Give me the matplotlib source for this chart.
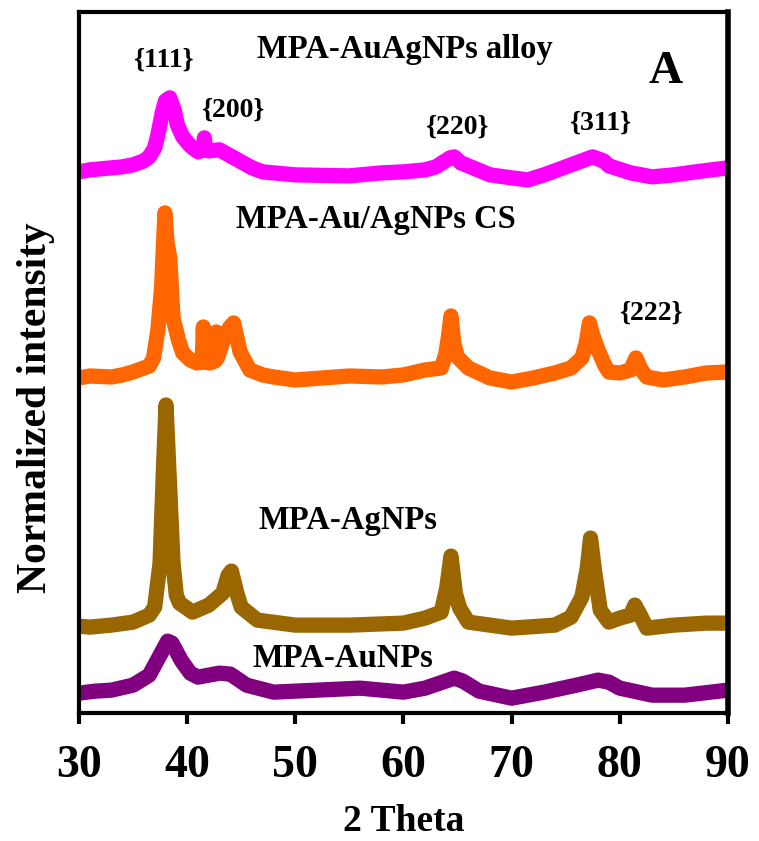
import matplotlib
matplotlib.use("Agg")
import matplotlib.pyplot as plt

plt.rcParams['font.family'] = ['Liberation Serif', 'DejaVu Serif']
plt.rcParams['font.weight'] = 'bold'

# 2 theta (deg) and stacked normalized intensity (arb. units)
theta_alloy = [30, 31, 33, 34, 35, 36, 36.5, 37.0, 37.3, 37.7, 38.0, 38.4, 38.8, 39.1, 39.6, 40.3, 41,
               41.5, 41.6, 41.7, 42, 43, 44, 45, 46, 47, 50, 55, 58, 60, 62, 63, 64.3, 64.7, 65.3, 66,
               68, 70, 71.5, 73, 75, 76.5, 77.5, 78.5, 79, 81, 83, 85, 87, 88.5, 90]
int_alloy = [541, 543, 545, 546, 548, 552, 556, 565, 578, 600, 612, 615, 603, 588, 576, 567, 561,
             563, 575, 563, 562, 563, 557, 551, 545, 541, 538, 537, 540, 541, 543, 546, 555, 556, 550, 547,
             538, 535, 533, 538, 546, 552, 556, 552, 547, 540, 536, 538, 541, 543, 545]

theta_cs = [30, 31, 33, 34, 35, 36.5, 36.9, 37.3, 37.64, 37.95, 38.15, 38.4, 38.7, 39.2, 39.6, 40.3,
            40.9, 41.4, 41.5, 41.6, 42.1, 42.6, 42.7, 42.8, 43.3, 43.9, 44.3, 44.9, 45.8, 47, 48, 50,
            55, 58, 60, 62, 63.5, 63.9, 64.15, 64.4, 64.65, 65.0, 66, 68, 70, 72, 74, 75.5, 76.5,
            76.9, 77.2, 77.5, 78.0, 78.6, 79, 80, 81.0, 81.5, 82.0, 82.5, 84, 86, 88, 90]
int_cs = [335, 337, 336, 338, 341, 347, 355, 383, 425, 500, 470, 455, 395, 373, 360, 353,
          350, 351, 386, 351, 350, 352, 381, 355, 371, 385, 390, 361, 343, 338, 336, 333,
          337, 336, 338, 343, 345, 358, 375, 397, 370, 356, 345, 335, 331, 335, 340, 345, 355,
          370, 390, 378, 363, 348, 341, 340, 343, 355, 343, 336, 333, 336, 340, 341]

theta_ag = [30, 31, 33, 35, 36.5, 37.0, 37.5, 37.8, 38.05, 38.35, 38.7, 39.0, 39.3, 40.5, 42, 43.3,
            43.8, 44.1, 44.6, 45, 46.5, 50, 55, 60, 62, 63.5, 64.0, 64.4, 64.8, 65.2, 66, 70, 74,
            75.5, 76.5, 77.0, 77.3, 77.7, 78.2, 79, 80, 81.0, 81.4, 81.9, 82.5, 85, 88, 90]
int_ag = [87, 86, 88, 91, 98, 106, 150, 240, 308, 235, 150, 118, 110, 101, 108, 120,
          138, 142, 120, 106, 93, 88, 88, 90, 95, 101, 125, 157, 120, 105, 91, 85, 88,
          96, 116, 145, 175, 140, 103, 91, 95, 98, 108, 98, 85, 88, 90, 90]

theta_au = [30, 31.5, 33, 35, 36.5, 37.5, 38.2, 38.6, 39.5, 40.3, 41, 42, 43, 44, 45.5, 48, 52, 56,
            60, 62, 64.7, 65.5, 67, 70, 73, 76, 78, 79, 80, 83, 86, 90]
int_au = [20, 22, 23, 28, 38, 58, 72, 70, 52, 40, 36, 38, 40, 39, 28, 21, 23, 25,
          21, 25, 35, 32, 22, 15, 21, 28, 33, 31, 25, 18, 18, 23]

fig = plt.figure(figsize=(7.59, 8.41), dpi=100)
ax = fig.add_axes([0.104, 0.152, 0.855, 0.834])

lw = 11
style = dict(lw=lw, solid_joinstyle='round', solid_capstyle='round')
ax.plot(theta_alloy, int_alloy, color='#FF00FF', **style)
ax.plot(theta_cs, int_cs, color='#FF6600', **style)
ax.plot(theta_ag, int_ag, color='#996600', **style)
ax.plot(theta_au, int_au, color='#800080', **style)

ax.set_xlim(30, 90)
ax.set_ylim(0, 701)
ax.set_xticks([30, 40, 50, 60, 70, 80, 90])
ax.set_yticks([])
ax.tick_params(axis='x', direction='out', length=8, width=3, labelsize=33, pad=15)
for s in ax.spines.values():
    s.set_linewidth(3)
ax.spines['right'].set_linewidth(4)

ax.set_xlabel('2 Theta', fontsize=27, fontweight='bold', labelpad=12)
ax.set_ylabel('Normalized intensity', fontsize=30, fontweight='bold')
ax.yaxis.set_label_coords(-0.037, 0.435)

ax.text(60.1, 663, 'MPA-AuAgNPs alloy', fontsize=23.5, ha='center', va='center')
ax.text(84.25, 641, 'A', fontsize=34, ha='center', va='center')
ax.text(37.8, 653, '{111}', fontsize=20, ha='center', va='center')
ax.text(44.2, 603, '{200}', fontsize=20, ha='center', va='center')
ax.text(64.9, 586, '{220}', fontsize=20, ha='center', va='center')
ax.text(78.2, 590, '{311}', fontsize=20, ha='center', va='center')
ax.text(82.9, 400, '{222}', fontsize=20, ha='center', va='center')
ax.text(57.45, 493, 'MPA-Au/AgNPs CS', fontsize=23.5, ha='center', va='center')
ax.text(54.9, 193, 'MPA-AgNPs', fontsize=23.5, ha='center', va='center')
ax.text(54.4, 55, 'MPA-AuNPs', fontsize=23.5, ha='center', va='center')

fig.savefig('out.png', dpi=100)
